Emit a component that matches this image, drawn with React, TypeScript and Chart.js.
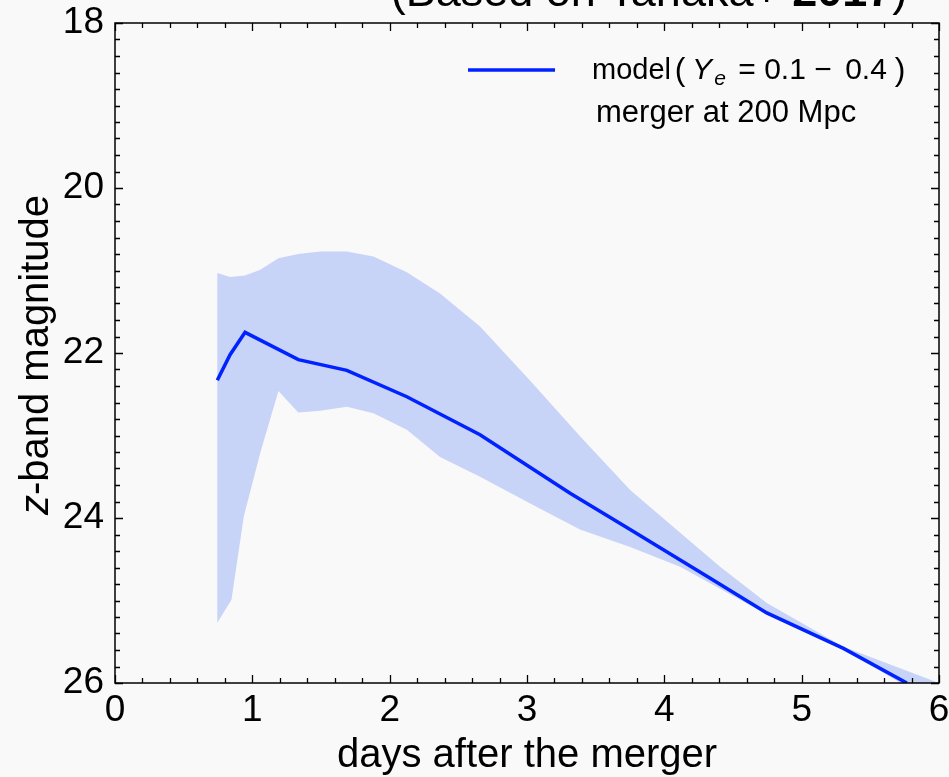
import React, { useEffect, useRef } from "react";
import { Chart, registerables } from "chart.js";

Chart.register(...registerables);

// Model light curve (median), z-band magnitude vs days after the merger
const days = [0.745, 0.838, 0.947, 1.335, 1.688, 2.125, 2.658, 3.314, 3.751, 4.334, 4.746, 5.304, 5.766];
const magnitude = [22.33, 22.02, 21.75, 22.08, 22.21, 22.53, 22.99, 23.7, 24.14, 24.73, 25.15, 25.58, 26.0];

// Bright edge of the model range (Ye = 0.1 - 0.4)
const upperDays = [0.745, 0.838, 0.947, 1.058, 1.19, 1.335, 1.493, 1.688, 1.882, 2.125, 2.367, 2.658, 3.02, 3.386, 3.751, 4.115, 4.406, 4.746, 5.304, 6.0];
const upperMag = [21.03, 21.08, 21.06, 20.99, 20.85, 20.8, 20.77, 20.77, 20.83, 21.02, 21.28, 21.68, 22.33, 23.01, 23.66, 24.18, 24.59, 25.03, 25.56, 26.0];

// Faint edge of the model range
const lowerDays = [0.745, 0.848, 0.938, 1.058, 1.19, 1.335, 1.493, 1.688, 1.882, 2.125, 2.367, 2.658, 3.02, 3.386, 3.751, 4.115, 4.746, 5.304, 5.72];
const lowerMag = [25.27, 24.99, 23.98, 23.21, 22.46, 22.72, 22.7, 22.65, 22.73, 22.93, 23.26, 23.5, 23.82, 24.14, 24.35, 24.59, 25.17, 25.59, 26.0];

const xTickValues = [0, 1, 2, 3, 4, 5, 6];
const yTickValues = [18, 20, 22, 24, 26];

const LINE_COLOR = "#0022ff";
const BAND_COLOR = "#c8d3f8";
const BG = "#f9f9f9";
const SANS = '"Liberation Sans", Arial, sans-serif';

// Inward major/minor ticks on all four sides plus the frame
const frameTicks = {
  id: "frameTicks",
  afterDraw(chart: any) {
    const { ctx, chartArea: a, scales } = chart;
    const xs = scales.x;
    const ys = scales.y;
    ctx.save();
    ctx.strokeStyle = "#000";
    ctx.lineWidth = 1.5;
    ctx.strokeRect(a.left, a.top, a.right - a.left, a.bottom - a.top);
    ctx.lineWidth = 1.3;
    ctx.beginPath();
    for (let i = 0; i <= 30; i++) {
      const v = i * 0.2;
      const len = i % 5 === 0 ? 8 : 5;
      const px = Math.round(xs.getPixelForValue(v)) + 0.5;
      ctx.moveTo(px, a.bottom);
      ctx.lineTo(px, a.bottom - len);
      ctx.moveTo(px, a.top);
      ctx.lineTo(px, a.top + len);
    }
    for (let i = 0; i <= 40; i++) {
      const v = 18 + i * 0.2;
      const len = i % 10 === 0 ? 8 : 5;
      const py = Math.round(ys.getPixelForValue(v)) + 0.5;
      ctx.moveTo(a.left, py);
      ctx.lineTo(a.left + len, py);
      ctx.moveTo(a.right, py);
      ctx.lineTo(a.right - len, py);
    }
    ctx.stroke();
    ctx.restore();
  },
};

// Title, axis titles and legend text
const annotations = {
  id: "annotations",
  beforeDraw(chart: any) {
    const { ctx, width, height } = chart;
    ctx.save();
    ctx.fillStyle = BG;
    ctx.fillRect(0, 0, width, height);
    ctx.restore();
  },
  afterDraw(chart: any) {
    const { ctx, chartArea: a } = chart;
    ctx.save();
    ctx.fillStyle = "#000";
    ctx.textBaseline = "alphabetic";

    // Heading (partly above the canvas)
    ctx.textAlign = "left";
    const h1 = "(Based on Tanaka+ ";
    const h2 = "2017";
    const h3 = ")";
    ctx.font = `45px ${SANS}`;
    const w1 = ctx.measureText(h1).width;
    const w3 = ctx.measureText(h3).width;
    ctx.font = `bold 45px ${SANS}`;
    const w2 = ctx.measureText(h2).width;
    let hx = 649 - (w1 + w2 + w3) / 2;
    ctx.font = `45px ${SANS}`;
    ctx.fillText(h1, hx, 6);
    hx += w1;
    ctx.font = `bold 45px ${SANS}`;
    ctx.fillText(h2, hx, 6);
    hx += w2;
    ctx.font = `45px ${SANS}`;
    ctx.fillText(h3, hx, 6);

    // x-axis title
    ctx.textAlign = "center";
    ctx.font = `40px ${SANS}`;
    ctx.fillText("days after the merger", (a.left + a.right) / 2, 767);

    // y-axis title, italic z
    ctx.save();
    ctx.translate(48, 355);
    ctx.rotate(-Math.PI / 2);
    ctx.textAlign = "left";
    ctx.font = `italic 40px ${SANS}`;
    const wz = ctx.measureText("z").width;
    ctx.font = `40px ${SANS}`;
    const wr = ctx.measureText("-band magnitude").width;
    const sx = -(wz + wr) / 2;
    ctx.font = `italic 40px ${SANS}`;
    ctx.fillText("z", sx, 0);
    ctx.font = `40px ${SANS}`;
    ctx.fillText("-band magnitude", sx + wz, 0);
    ctx.restore();

    // Legend handle
    ctx.strokeStyle = LINE_COLOR;
    ctx.lineWidth = 3.5;
    ctx.beginPath();
    ctx.moveTo(468, 70);
    ctx.lineTo(555, 70);
    ctx.stroke();

    // Legend label with math-style spacing
    const ly = 79;
    ctx.textAlign = "left";
    ctx.font = `29px ${SANS}`;
    ctx.fillText("model", 592, ly);
    ctx.textAlign = "center";
    const pieces: [string, string, number, number, number][] = [
      ["(", "", 32, 680, 1],
      ["Y", "italic ", 30, 702, 0],
      ["e", "italic ", 21, 720, 6],
      ["=", "", 30, 747, 0],
      ["0.1", "", 30, 785, 0],
      ["\u2212", "", 30, 823, 0],
      ["0.4", "", 30, 866, 0],
      [")", "", 32, 900, 1],
    ];
    for (const [t, style, size, px, dy] of pieces) {
      ctx.font = `${style}${size}px ${SANS}`;
      ctx.fillText(t, px, ly + dy);
    }
    ctx.textAlign = "left";
    ctx.font = `31px ${SANS}`;
    ctx.fillText("merger at 200 Mpc", 596, 122);
    ctx.restore();
  },
};

export default function App() {
  const ref = useRef<HTMLCanvasElement>(null);

  useEffect(() => {
    if (!ref.current) return;
    const linePts = days.map((d, i) => ({ x: d, y: magnitude[i] }));
    const bandPts = [
      ...upperDays.map((d, i) => ({ x: d, y: upperMag[i] })),
      ...lowerDays.map((d, i) => ({ x: d, y: lowerMag[i] })).reverse(),
    ];

    const chart = new Chart(ref.current, {
      type: "line",
      data: {
        datasets: [
          {
            label: "model",
            data: linePts,
            borderColor: LINE_COLOR,
            borderWidth: 3.5,
            pointRadius: 0,
            fill: false,
            tension: 0,
            order: 0,
          },
          {
            label: "range",
            data: bandPts,
            borderWidth: 0,
            borderColor: "rgba(0,0,0,0)",
            backgroundColor: BAND_COLOR,
            pointRadius: 0,
            fill: "shape",
            tension: 0,
            order: 1,
          },
        ],
      },
      options: {
        animation: false,
        responsive: false,
        maintainAspectRatio: false,
        layout: { padding: { left: 0, top: 23, right: 10, bottom: 0 } },
        plugins: {
          legend: { display: false },
          tooltip: { enabled: false },
          title: { display: false },
        },
        scales: {
          x: {
            type: "linear",
            min: 0,
            max: 6,
            afterFit: (s: any) => {
              s.height = 94;
              s.paddingLeft = 0;
              s.paddingRight = 0;
            },
            afterBuildTicks: (s: any) => {
              s.ticks = xTickValues.map((v) => ({ value: v }));
            },
            grid: { display: false, drawTicks: false },
            border: { display: false },
            ticks: {
              color: "#000",
              font: { family: SANS, size: 37 },
              padding: 6,
              maxRotation: 0,
            },
          },
          y: {
            type: "linear",
            reverse: true,
            min: 18,
            max: 26,
            afterFit: (s: any) => {
              s.width = 115;
              s.paddingTop = 0;
              s.paddingBottom = 0;
            },
            afterBuildTicks: (s: any) => {
              s.ticks = yTickValues.map((v) => ({ value: v }));
            },
            grid: { display: false, drawTicks: false },
            border: { display: false },
            ticks: {
              color: "#000",
              font: { family: SANS, size: 37 },
              padding: 11,
            },
          },
        },
      },
      plugins: [annotations, frameTicks],
    });
    return () => chart.destroy();
  }, []);

  return (
    <div style={{ position: "fixed", left: 0, top: 0, width: 949, height: 777, background: BG }}>
      <canvas ref={ref} width={949} height={777} style={{ display: "block" }} />
    </div>
  );
}
